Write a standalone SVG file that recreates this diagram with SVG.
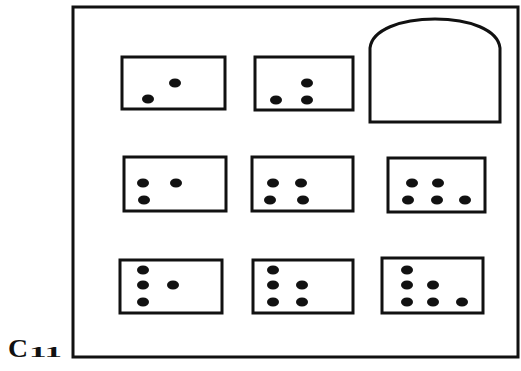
<svg xmlns="http://www.w3.org/2000/svg" width="521" height="371" viewBox="0 0 521 371">
<style>
.box{fill:none;stroke:#111;stroke-width:3}
.dot{fill:#111}
.lbl{font-family:"Liberation Serif",serif;font-weight:bold;fill:#111}
</style>
<rect width="521" height="371" fill="#fff"/>
<g id="frame"><rect class="box" x="73" y="7" width="445" height="350"/></g>
<g id="box1"><rect class="box" x="122" y="57" width="103" height="52"/>
<ellipse class="dot" cx="175" cy="83" rx="6" ry="4.5"/><ellipse class="dot" cx="148" cy="99" rx="6" ry="4.5"/></g>
<g id="box2"><rect class="box" x="255" y="57" width="98" height="53"/>
<ellipse class="dot" cx="307" cy="83" rx="6" ry="4.5"/><ellipse class="dot" cx="276" cy="100" rx="6" ry="4.5"/><ellipse class="dot" cx="307" cy="100" rx="6" ry="4.5"/></g>
<g id="arch"><path class="box" d="M370,122 L370,48 C372,30 400,19 435,19 C470,19 498,30 500,48 L500,122 Z"/></g>
<g id="box4"><rect class="box" x="124" y="157" width="102" height="54"/>
<ellipse class="dot" cx="143" cy="183" rx="6" ry="4.5"/><ellipse class="dot" cx="176" cy="183" rx="6" ry="4.5"/><ellipse class="dot" cx="144" cy="200" rx="6" ry="4.5"/></g>
<g id="box5"><rect class="box" x="252" y="157" width="101" height="54"/>
<ellipse class="dot" cx="273" cy="183" rx="6" ry="4.5"/><ellipse class="dot" cx="301" cy="183" rx="6" ry="4.5"/><ellipse class="dot" cx="270" cy="200" rx="6" ry="4.5"/><ellipse class="dot" cx="303" cy="200" rx="6" ry="4.5"/></g>
<g id="box6"><rect class="box" x="388" y="158" width="97" height="54"/>
<ellipse class="dot" cx="412" cy="183" rx="6" ry="4.5"/><ellipse class="dot" cx="438" cy="183" rx="6" ry="4.5"/><ellipse class="dot" cx="408" cy="200" rx="6" ry="4.5"/><ellipse class="dot" cx="437" cy="200" rx="6" ry="4.5"/><ellipse class="dot" cx="465" cy="200" rx="6" ry="4.5"/></g>
<g id="box7"><rect class="box" x="120" y="260" width="102" height="53"/>
<ellipse class="dot" cx="143" cy="270" rx="6" ry="4.5"/><ellipse class="dot" cx="143" cy="285" rx="6" ry="4.5"/><ellipse class="dot" cx="173" cy="285" rx="6" ry="4.5"/><ellipse class="dot" cx="143" cy="302" rx="6" ry="4.5"/></g>
<g id="box8"><rect class="box" x="253" y="260" width="100" height="53"/>
<ellipse class="dot" cx="273" cy="270" rx="6" ry="4.5"/><ellipse class="dot" cx="273" cy="285" rx="6" ry="4.5"/><ellipse class="dot" cx="302" cy="285" rx="6" ry="4.5"/><ellipse class="dot" cx="273" cy="302" rx="6" ry="4.5"/><ellipse class="dot" cx="302" cy="302" rx="6" ry="4.5"/></g>
<g id="box9"><rect class="box" x="382" y="258" width="101" height="55"/>
<ellipse class="dot" cx="407" cy="270" rx="6" ry="4.5"/><ellipse class="dot" cx="407" cy="285" rx="6" ry="4.5"/><ellipse class="dot" cx="433" cy="285" rx="6" ry="4.5"/><ellipse class="dot" cx="407" cy="302" rx="6" ry="4.5"/><ellipse class="dot" cx="433" cy="302" rx="6" ry="4.5"/><ellipse class="dot" cx="462" cy="302" rx="6" ry="4.5"/></g>
<g id="label"><text class="lbl" x="8" y="357" font-size="26" textLength="20" lengthAdjust="spacingAndGlyphs">C</text><text class="lbl" x="29" y="357" font-size="15" textLength="33" lengthAdjust="spacingAndGlyphs">11</text></g>
</svg>
